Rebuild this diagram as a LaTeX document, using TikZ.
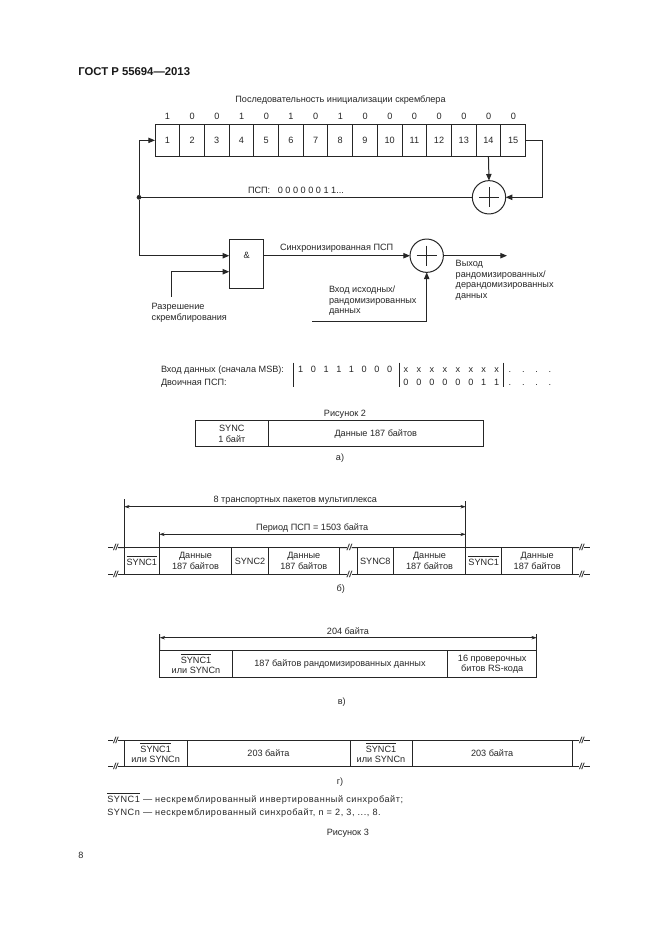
\documentclass[tikz,border=0pt]{standalone}
\usepackage{fontspec}
\setmainfont{Liberation Sans}
\newfontfamily\spaced[LetterSpace=6]{Liberation Sans}
\usetikzlibrary{arrows.meta}
\newcommand{\ovl}[1]{\leavevmode\vbox{\hrule height .55pt \kern 1.7pt \hbox{#1}}}
\newcommand{\mkbox}[6]{\node[cellbox, minimum width={(#3-#2)*0.75pt}, minimum height={(#5-#4)*0.75pt}] (#1) at ({(#2+#3)/2},{(#4+#5)/2}) {#6};}
\newcommand{\xorplus}[1]{\draw[wire] (#1.center) +(-10,0) -- +(10,0) (#1.center) +(0,-10) -- +(0,10);}
\tikzset{
  wire/.style={line width=.75pt,color=black!85},
  sig/.style={wire,-{Triangle[length=5pt,width=4pt]}},
  dim/.style={line width=.55pt,color=black!85,{Stealth[length=4pt,width=2.6pt]}-{Stealth[length=4pt,width=2.6pt]}},
  ext/.style={line width=.7pt,color=black!85},
  txt/.style={inner sep=0pt,outer sep=0pt,anchor=mid,font=\fontsize{6.85}{7.9}\selectfont,text=black!85},
  txtl/.style={txt,anchor=mid west},
  txtb/.style={txt,anchor=west,align=left},
  cellbox/.style={draw=black!85,line width=.75pt,inner sep=0pt,outer sep=0pt,align=center,font=\fontsize{6.85}{7.9}\selectfont,text=black!85},
  xor/.style={circle,draw=black!85,line width=.75pt,minimum size=25pt,inner sep=0pt,outer sep=0pt},
  brk/.style={inner sep=0pt,outer sep=0pt,font=\fontsize{6.5}{7}\selectfont\bfseries\itshape,text=black!85},
  junction/.style={circle,fill=black!85,minimum size=3.5pt,inner sep=0pt,outer sep=0pt},
}
\begin{document}
\begin{tikzpicture}[x=0.75pt,y=-0.75pt]
\useasboundingbox[fill=white] (0,0) rectangle (661,936);
% header
\node[inner sep=0pt,anchor=mid west,font=\fontsize{8.5}{9}\selectfont\bfseries,text=black!90] (gost) at (78,72) {ГОСТ Р 55694—2013};
\node[txt] (seqt) at (340.5,99.3) {Последовательность инициализации скремблера};
% register
\foreach \v [count=\i] in {1,0,0,1,0,1,0,1,0,0,0,0,0,0,0} {
  \pgfmathsetmacro{\xa}{155+(\i-1)*24.7}
  \pgfmathsetmacro{\xb}{155+\i*24.7}
  \node[txt] (b\i) at ({167.5+(\i-1)*24.7},115.7) {\v};
  \mkbox{c\i}{\xa}{\xb}{124}{156.7}{\i}
}
\node[xor] (x1) at (489,197.3) {};
\xorplus{x1}
\node[junction] (fb) at (139,197.3) {};
\draw[sig] (c14.south) -- (x1.north);
\draw[sig] (c15.east) -- ++(16.6,0) |- (x1.east);
\draw[wire] (x1.west) -- (fb);
\draw[sig] (fb) |- (c1.west);
\node[txtl] (psp) at (248,190) {ПСП:\ \ \ 0 0 0 0 0 0 1 1...};
% and + output adder
\mkbox{and}{229.3}{263.3}{239}{288.3}{}
\node[txt] (amp) at (246.7,255) {\&};
\node[xor] (x2) at (426.7,255.7) {};
\xorplus{x2}
\draw[sig] (fb) |- (and.west |- x2);
\coordinate (en) at (171.7,296.7);
\coordinate (enin) at (229.3,271.7);
\draw[sig] (en) |- (enin);
\draw[sig] (and.east |- x2) -- (x2.west);
\coordinate (outp) at (507,255.7);
\draw[sig] (x2.east) -- (outp);
\coordinate (inp) at (312.3,321);
\draw[sig] (inp) -| (x2.south);
\node[txtl] (synct) at (280,246.7) {Синхронизированная ПСП};
\node[txtb] (ent) at (151.7,312.8) {Разрешение\\скремблирования};
\node[txtb] (inpt) at (329,300.6) {Вход исходных/\\рандомизированных\\данных};
\node[txtb] (outt) at (455.7,280.3) {Выход\\рандомизированных/\\дерандомизированных\\данных};
% bits table
\node[txtl] (dl1) at (161,369) {Вход данных (сначала MSB):};
\node[txtl] (dl2) at (161,381.7) {Двоичная ПСП:};
\draw[wire] (293.3,362.7) -- (293.3,387.3);
\draw[wire] (399,362.7) -- (399,387.3);
\draw[wire] (503,362.7) -- (503,387.3);
\foreach \v [count=\i] in {1,0,1,1,1,0,0,0} {
  \node[txt] (da\i) at ({300.7+(\i-1)*12.7},369) {\v};
}
\foreach \v [count=\i] in {x,x,x,x,x,x,x,x} {
  \node[txt] (db\i) at ({406+(\i-1)*12.96},369) {\v};
}
\foreach \v [count=\i] in {0,0,0,0,0,0,1,1} {
  \node[txt] (dc\i) at ({406+(\i-1)*12.96},381.7) {\v};
}
\foreach \i in {1,2,3,4} {
  \node[txt] (de\i) at ({510+(\i-1)*13.3},369) {.};
  \node[txt] (df\i) at ({510+(\i-1)*13.3},381.7) {.};
}
\node[txt] (fig2) at (345,413.3) {Рисунок 2};
% a)
\mkbox{a1}{195.3}{268.3}{420.7}{446.7}{SYNC\\1 байт}
\mkbox{a2}{268.3}{483.3}{420.7}{446.7}{Данные 187 байтов}
\node[txt] (la) at (340,457.3) {а)};
% b)
\mkbox{s1}{124.3}{159.3}{547.7}{574.3}{\ovl{SYNC1}}
\mkbox{s2}{159.3}{231.7}{547.7}{574.3}{Данные\\187 байтов}
\mkbox{s3}{231.7}{268.3}{547.7}{574.3}{SYNC2}
\mkbox{s4}{268.3}{339.3}{547.7}{574.3}{Данные\\187 байтов}
\mkbox{s5}{357.3}{393.3}{547.7}{574.3}{SYNC8}
\mkbox{s6}{393.3}{465.7}{547.7}{574.3}{Данные\\187 байтов}
\mkbox{s7}{465.7}{501.7}{547.7}{574.3}{\ovl{SYNC1}}
\mkbox{s8}{501.7}{572.7}{547.7}{574.3}{Данные\\187 байтов}
\foreach \n/\x in {bl/115.7,bm/349.3,br/581.7} {
  \node[brk] (\n t) at (\x,547.7) {//};
  \node[brk] (\n b) at (\x,574.3) {//};
}
\foreach \p in {t,b} { \draw[ext] (bl\p.west) -- +(-5,0); \draw[ext] (br\p.east) -- +(6,0); }
\draw[ext] (blt.east) -- (s1.north west);
\draw[ext] (blb.east) -- (s1.south west);
\draw[ext] (s4.north east) -- (bmt.west);
\draw[ext] (s4.south east) -- (bmb.west);
\draw[ext] (bmt.east) -- (s5.north west);
\draw[ext] (bmb.east) -- (s5.south west);
\draw[ext] (s8.north east) -- (brt.west);
\draw[ext] (s8.south east) -- (brb.west);
\coordinate (t1) at (124.3,499.3);
\coordinate (t2) at (159.3,531.7);
\coordinate (t3) at (465.7,501);
\draw[ext] (t1) -- (s1.north west);
\draw[ext] (t2) -- (s1.north east);
\draw[ext] (t3) -- (s6.north east);
\draw[dim] (124.3,506.7) -- (465.7,506.7);
\draw[dim] (159.3,534.3) -- (465.7,534.3);
\node[txt] (tp8) at (295.3,499) {8 транспортных пакетов мультиплекса};
\node[txt] (per) at (312.2,526.7) {Период ПСП = 1503 байта};
\node[txt] (lb) at (340.7,588) {б)};
% v)
\mkbox{v1}{159.7}{232.3}{650.7}{677.3}{\ovl{SYNC1}\\или SYNCn}
\mkbox{v2}{232.3}{447.7}{650.7}{677.3}{187 байтов рандомизированных данных}
\mkbox{v3}{447.7}{536.7}{650.7}{677.3}{16 проверочных\\битов RS-кода}
\draw[ext] (159.7,634) -- (v1.north west);
\draw[ext] (536.7,634) -- (v3.north east);
\draw[dim] (159.7,637.7) -- (536.7,637.7);
\node[txt] (b204) at (348,630.7) {204 байта};
\node[txt] (lv) at (341.7,701) {в)};
% g)
\mkbox{g1}{124.3}{187}{740}{766}{\ovl{SYNC1}\\или SYNCn}
\mkbox{g2}{187}{350}{740}{766}{203 байта}
\mkbox{g3}{350}{412}{740}{766}{\ovl{SYNC1}\\или SYNCn}
\mkbox{g4}{412}{572.3}{740}{766}{203 байта}
\foreach \n/\x in {gl/115.7,gr/581.7} {
  \node[brk] (\n t) at (\x,740) {//};
  \node[brk] (\n b) at (\x,766) {//};
}
\foreach \p in {t,b} { \draw[ext] (gl\p.west) -- +(-5,0); \draw[ext] (gr\p.east) -- +(6,0); }
\draw[ext] (glt.east) -- (g1.north west);
\draw[ext] (glb.east) -- (g1.south west);
\draw[ext] (g4.north east) -- (grt.west);
\draw[ext] (g4.south east) -- (grb.west);
\node[txt] (lg) at (340,780.7) {г)};
% notes
\node[txtl,font=\fontsize{6.85}{7.9}\spaced] (n1) at (107.3,799) {\ovl{SYNC1} — нескремблированный инвертированный синхробайт;};
\node[txtl,font=\fontsize{6.85}{7.9}\spaced] (n2) at (107.3,812.3) {SYNCn — нескремблированный синхробайт, n = 2, 3, ..., 8.};
\node[txt] (fig3) at (347.8,832.3) {Рисунок 3};
\node[txt] (pg) at (81,855) {8};
\end{tikzpicture}
\end{document}
